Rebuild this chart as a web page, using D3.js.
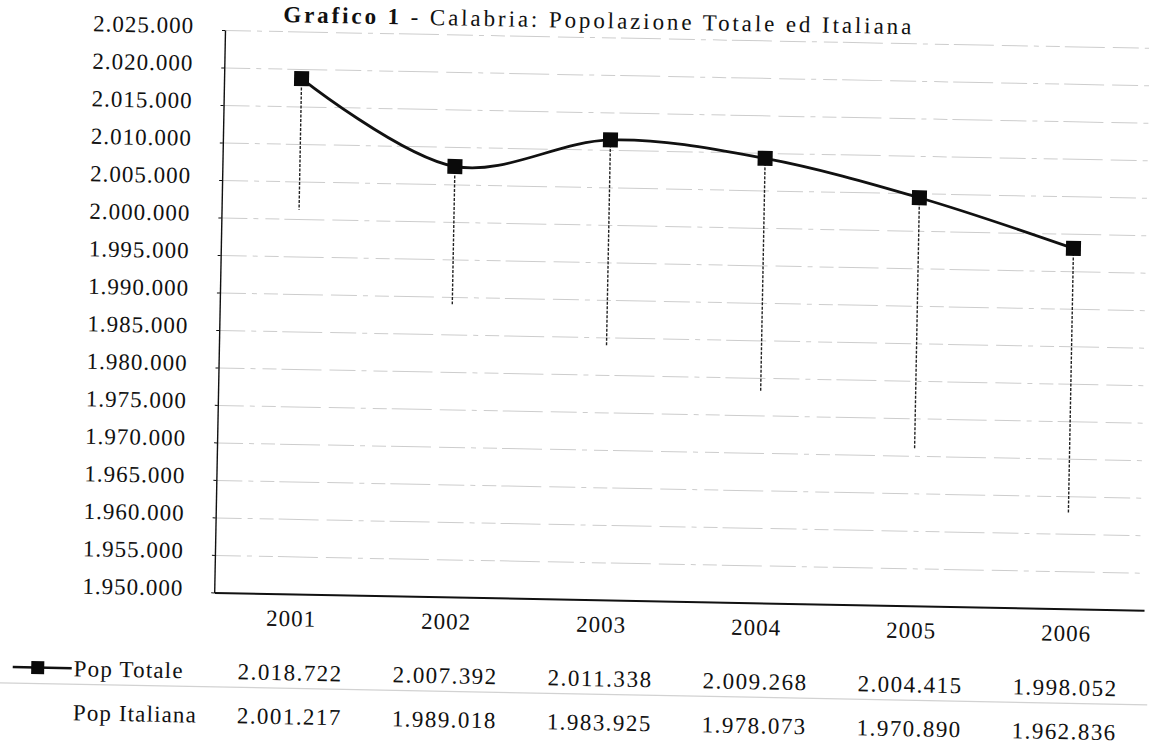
<!DOCTYPE html>
<html>
<head>
<meta charset="utf-8">
<script src="https://cdn.jsdelivr.net/npm/d3@7/dist/d3.min.js"></script>
<style>
  html, body { margin: 0; padding: 0; background: #fff; }
  svg { display: block; }
  text { font-family: "Liberation Serif", "DejaVu Serif", serif; fill: #111; }
</style>
</head>
<body>
<svg id="chart" width="1149" height="746"></svg>
<script>
// Anni e serie
const years = ["2001", "2002", "2003", "2004", "2005", "2006"];
const popTotale = [2018722, 2007392, 2011338, 2009268, 2004415, 1998052];
const popItaliana = [2001217, 1989018, 1983925, 1978073, 1970890, 1962836];
const yTickValues = [1950000, 1955000, 1960000, 1965000, 1970000, 1975000, 1980000,
  1985000, 1990000, 1995000, 2000000, 2005000, 2010000, 2015000, 2020000, 2025000];
const seriesNames = ["Pop Totale", "Pop Italiana"];

const it = d3.formatLocale({ decimal: ",", thousands: ".", grouping: [3], currency: ["€", ""] });
const fmt = it.format(",d");

const svg = d3.select("#chart");
const plot = { left: 225, right: 1155, top: 30, bottom: 592.5 };
const fs = 23;

// the whole sheet sits slightly tilted
const g = svg.append("g").attr("transform", `rotate(1.1, ${plot.left}, ${plot.top})`);

const x = d3.scaleBand().domain(years).range([plot.left, plot.right]);
const y = d3.scaleLinear().domain([1950000, 2025000]).range([plot.bottom, plot.top]);
const cx = d => x(d) + x.bandwidth() / 2;

// spread letters so a text fills a given width
function fitWidth(node, target) {
  const n = node.textContent.length;
  node.setAttribute("letter-spacing", 0);
  const w = node.getComputedTextLength();
  node.setAttribute("letter-spacing", ((target - w) / Math.max(n, 1)).toFixed(2));
}

// gridlines
g.append("g")
  .attr("transform", `translate(${plot.left},0)`)
  .call(d3.axisLeft(y).tickValues(yTickValues).tickSize(-(plot.right - plot.left)).tickFormat(""))
  .call(a => a.select(".domain").remove())
  .call(a => a.selectAll("line")
    .attr("stroke", "#cdcdcd").attr("stroke-width", 1)
    .attr("stroke-dasharray", "26 6 5 7 14 5 40 8"));

// left axis
const yAxis = g.append("g")
  .attr("transform", `translate(${plot.left},0)`)
  .call(d3.axisLeft(y).tickValues(yTickValues).tickFormat(fmt).tickSizeInner(3).tickSizeOuter(0).tickPadding(28));
yAxis.select(".domain").attr("stroke", "#111").attr("stroke-width", 1.4);
yAxis.selectAll(".tick line").attr("stroke", "#111");
yAxis.selectAll("text").attr("font-size", fs).attr("font-family", "Liberation Serif").attr("fill", "#111")
  .attr("y", -4)
  .each(function () { fitWidth(this, 101); });

// bottom axis
const xAxis = g.append("g")
  .attr("transform", `translate(0,${plot.bottom})`)
  .call(d3.axisBottom(x).tickSize(0).tickPadding(16));
xAxis.select(".domain").attr("stroke", "#111").attr("stroke-width", 2);
xAxis.selectAll("text").attr("font-size", fs).attr("font-family", "Liberation Serif").attr("fill", "#111")
  .each(function () { fitWidth(this, 50); });

// high-low lines between the two series
g.append("g").selectAll("line")
  .data(years)
  .join("line")
  .attr("x1", d => cx(d)).attr("x2", d => cx(d))
  .attr("y1", (d, i) => y(popTotale[i]))
  .attr("y2", (d, i) => y(popItaliana[i]))
  .attr("stroke", "#222").attr("stroke-width", 1.4)
  .attr("stroke-dasharray", "3 1.5");

// smoothed total population line
const line = d3.line()
  .x((d, i) => cx(years[i]))
  .y(d => y(d))
  .curve(d3.curveCatmullRom.alpha(0.5));
g.append("path")
  .datum(popTotale)
  .attr("d", line)
  .attr("fill", "none")
  .attr("stroke", "#111")
  .attr("stroke-width", 2.8);

const ms = 15;
g.append("g").selectAll("rect")
  .data(popTotale)
  .join("rect")
  .attr("x", (d, i) => cx(years[i]) - ms / 2)
  .attr("y", d => y(d) - ms / 2)
  .attr("width", ms).attr("height", ms)
  .attr("fill", "#0a0a0a");

// title
const title = g.append("text")
  .attr("x", 283).attr("y", 21)
  .attr("font-size", fs);
title.append("tspan").attr("font-weight", "bold").text("Grafico 1");
title.append("tspan").text(" - Calabria: Popolazione Totale ed Italiana");
fitWidth(title.node(), 631);

// data table under the chart
const rows = [
  { name: seriesNames[0], values: popTotale, yc: 671 },
  { name: seriesNames[1], values: popItaliana, yc: 715 }
];

// separator between the two table rows
g.append("line")
  .attr("x1", 8).attr("x2", 1160)
  .attr("y1", 687).attr("y2", 687)
  .attr("stroke", "#d2d2d2").attr("stroke-width", 1.2);

rows.forEach((r, ri) => {
  const labelNode = g.append("text")
    .attr("x", 86).attr("y", r.yc + 8)
    .attr("font-size", fs)
    .text(r.name).node();
  fitWidth(labelNode, ri === 0 ? 110 : 124);

  g.append("g").selectAll("text")
    .data(r.values)
    .join("text")
    .attr("x", (d, i) => cx(years[i]))
    .attr("y", r.yc + 8)
    .attr("text-anchor", "middle")
    .attr("font-size", fs)
    .text(d => fmt(d))
    .each(function () { fitWidth(this, 105); });
});

// legend key for the total series
g.append("line")
  .attr("x1", 25).attr("x2", 84)
  .attr("y1", 671).attr("y2", 671)
  .attr("stroke", "#111").attr("stroke-width", 2.5);
g.append("rect")
  .attr("x", 50 - 6.5).attr("y", 671 - 6.5)
  .attr("width", 13).attr("height", 13)
  .attr("fill", "#0a0a0a");
</script>
</body>
</html>
